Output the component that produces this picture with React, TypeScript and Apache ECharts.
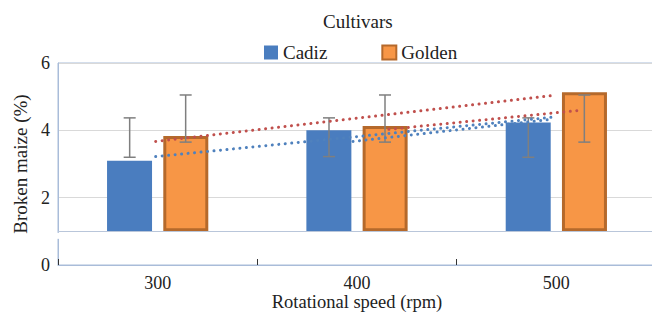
import React, { useEffect, useRef } from "react";
import * as echarts from "echarts";

const categories = ["300", "400", "500"];
const cadiz = [3.1, 4.0, 4.23];
const golden = [3.83, 4.13, 5.13];
const cadizErrLow = [3.2, 3.22, 3.2];
const cadizErrHigh = [4.37, 4.37, 4.37];
const goldenErrLow = [3.65, 3.65, 3.65];
const goldenErrHigh = [5.05, 5.05, 5.05];
const barBase = 1;
const yTicks = [0, 2, 4, 6];
// trend lines: [position in category bands (0..3), value]
const redTrendA = [[0.49, 3.67], [2.49, 5.04]];
const blueTrendA = [[0.49, 3.22], [2.48, 4.39]];
const redTrendB = [[1.66, 4.03], [2.63, 4.6]];
const blueTrendB = [[1.48, 3.67], [2.48, 4.33]];

const FONT = "Liberation Serif";
const BLUE = "#4a7dbf";
const ORANGE = "#f79646";
const ORANGE_EDGE = "#b5692b";
const AXIS = "#a9bcd9";
const GRIDC = "#d9d9d9";
const BAR_W = 45;
const OFFSET = 28;

function errSeries(name: string, low: number[], high: number[], dx: number) {
  return {
    type: "custom",
    name,
    xAxisIndex: 0,
    yAxisIndex: 0,
    z: 5,
    data: low.map((l, i) => [i, l, high[i]]),
    renderItem: (params: any, api: any) => {
      const lo = api.coord([api.value(0), api.value(1)]);
      const hi = api.coord([api.value(0), api.value(2)]);
      const x = lo[0] + dx;
      const cap = 6;
      const style = { stroke: "#7f7f7f", lineWidth: 1.5 };
      return {
        type: "group",
        children: [
          { type: "line", shape: { x1: x, y1: lo[1], x2: x, y2: hi[1] }, style },
          { type: "line", shape: { x1: x - cap, y1: lo[1], x2: x + cap, y2: lo[1] }, style },
          { type: "line", shape: { x1: x - cap, y1: hi[1], x2: x + cap, y2: hi[1] }, style },
        ],
      };
    },
  };
}

function trend(data: number[][], color: string) {
  return {
    type: "line",
    xAxisIndex: 1,
    yAxisIndex: 0,
    data,
    symbol: "none",
    z: 6,
    silent: true,
    lineStyle: { color, width: 3, type: [0.01, 6.5], cap: "round" },
  };
}

export default function App() {
  const ref = useRef<HTMLDivElement>(null);
  useEffect(() => {
    document.body.style.margin = "0";
    document.body.style.overflow = "hidden";
    if (!ref.current) return;
    const chart = echarts.init(ref.current, null, { renderer: "svg" });
    const titleGraphic = {
      type: "text",
      left: 323,
      top: 12,
      style: { text: "Cultivars", fontFamily: FONT, fontSize: 19, fill: "#222" },
    };
    const option: any = {
      animation: false,
      textStyle: { fontFamily: FONT },
      grid: {
        left: 58,
        right: -4,
        top: 63,
        bottom: 50,
        show: true,
        borderColor: AXIS,
        borderWidth: 1,
        containLabel: false,
        outerBoundsMode: "none",
      },
      legend: {
        data: [{ name: "Cadiz" }, { name: "Golden" }],
        left: 259,
        top: 38,
        itemWidth: 14,
        itemHeight: 14,
        itemGap: 54,
        icon: "rect",
        textStyle: { fontFamily: FONT, fontSize: 19, color: "#222" },
      },
      xAxis: [
        {
          type: "category",
          data: categories,
          axisLine: { lineStyle: { color: AXIS } },
          axisTick: { show: true, inside: true, length: 6, lineStyle: { color: "#333" } },
          axisLabel: { fontFamily: FONT, fontSize: 18, color: "#222", margin: 9 },
          name: "Rotational speed (rpm)",
          nameLocation: "middle",
          nameGap: 27,
          nameMoveOverlap: false,
          nameTextStyle: {
            fontFamily: FONT,
            fontSize: 18.5,
            color: "#222",
            verticalAlign: "top",
            lineHeight: 20,
          },
        },
        { type: "value", min: 0, max: 3, show: false },
      ],
      yAxis: {
        type: "value",
        min: 0,
        max: 6,
        interval: 2,
        axisLine: { show: true, lineStyle: { color: AXIS } },
        axisTick: { show: false },
        axisLabel: {
          fontFamily: FONT,
          fontSize: 18,
          color: "#222",
          margin: 8,
          formatter: (v: number) => (yTicks.includes(v) ? String(v) : ""),
        },
        splitLine: { lineStyle: { color: GRIDC } },
        name: "Broken maize (%)",
        nameLocation: "middle",
        nameGap: 28,
        nameMoveOverlap: false,
        nameTextStyle: { fontFamily: FONT, fontSize: 19, color: "#222" },
      },
      series: [
        {
          type: "bar",
          stack: "c",
          data: categories.map(() => barBase),
          barWidth: BAR_W,
          barGap: "25%",
          itemStyle: { color: "rgba(0,0,0,0)" },
          silent: true,
          markLine: {
            symbol: "none",
            silent: true,
            label: { show: false },
            lineStyle: { color: "#b9c6da", type: "solid", width: 1 },
            data: [{ yAxis: barBase }],
          },
        },
        {
          type: "bar",
          name: "Cadiz",
          stack: "c",
          barWidth: BAR_W,
          data: cadiz.map((v) => +(v - barBase).toFixed(3)),
          itemStyle: { color: BLUE },
        },
        {
          type: "bar",
          stack: "g",
          barWidth: BAR_W,
          data: categories.map(() => barBase),
          itemStyle: { color: "rgba(0,0,0,0)" },
          silent: true,
        },
        {
          type: "bar",
          name: "Golden",
          stack: "g",
          barWidth: BAR_W,
          data: golden.map((v) => +(v - barBase).toFixed(3)),
          itemStyle: { color: ORANGE, borderColor: ORANGE_EDGE, borderWidth: 3 },
        },
        errSeries("CadizErr", cadizErrLow, cadizErrHigh, -OFFSET),
        errSeries("GoldenErr", goldenErrLow, goldenErrHigh, OFFSET),
        trend(redTrendA, "#c0504d"),
        trend(blueTrendA, "#4f81bd"),
        trend(redTrendB, "#c0504d"),
        trend(blueTrendB, "#4f81bd"),
      ],
      graphic: [titleGraphic],
    };
    chart.setOption(option);
    const yb = chart.convertToPixel({ yAxisIndex: 0 }, barBase) as number;
    chart.setOption({
      graphic: [
        titleGraphic,
        {
          type: "rect",
          shape: { x: 54, y: yb + 1.5, width: 8, height: 6 },
          style: { fill: "#fff" },
          z: 100,
        },
      ],
    });
    return () => chart.dispose();
  }, []);
  return <div ref={ref} style={{ width: 652, height: 315 }} />;
}
